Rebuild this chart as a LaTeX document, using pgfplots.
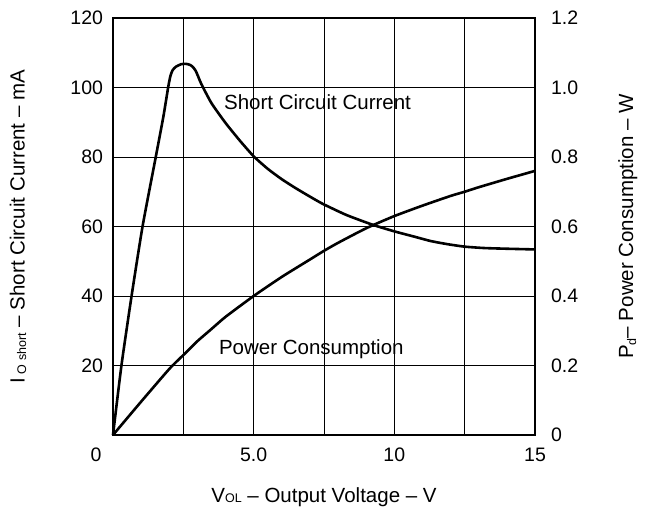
\documentclass[border=0pt]{standalone}
\usepackage{fontspec}
\setmainfont{Liberation Sans}
\usepackage{pgfplots}
\pgfplotsset{compat=1.18}
\begin{document}
\fontsize{20.5bp}{24bp}\selectfont
\begin{tikzpicture}
\begin{axis}[
  name=main,
  scale only axis, width=422bp, height=417bp,
  xmin=0, xmax=15, ymin=0, ymax=120,
  xtick={0,5,10,15},
  xticklabels={\makebox[0pt][r]{0\hspace{11.5bp}},5.0,10,15},
  minor xtick={2.5,7.5,12.5},
  ytick={20,40,60,80,100,120},
  grid=both,
  major grid style={black, line width=1pt},
  minor grid style={black, line width=1pt},
  axis line style={line width=1.6pt},
  major tick length=0pt, minor tick length=0pt,
  /pgf/number format/assume math mode=true,
  tick label style={font=\fontsize{19.5bp}{22bp}\selectfont},
  yticklabel style={xshift=-3bp},
  xticklabel style={yshift=-6bp},
  xlabel={V{\fontsize{12.5bp}{13bp}\selectfont OL} -- Output Voltage -- V},
  xlabel style={at={(axis description cs:0.5,0)}, anchor=center, yshift=-62bp},
  ylabel={I\,\raisebox{-1.5bp}{\fontsize{12.5bp}{13bp}\selectfont O short} -- Short Circuit Current -- mA},
  ylabel style={at={(axis description cs:-0.2251,0.5)}, anchor=center, rotate=0},
  clip=false,
]
\addplot[black, line width=2.6bp, line join=round, smooth, tension=0.35] coordinates {
(0,0) (0.3,20) (0.66,40) (1.05,60) (1.52,80) (1.79,91.6) (1.96,100)
(2.04,103.3) (2.12,105) (2.24,106) (2.42,106.7) (2.6,106.8) (2.74,106.5)
(2.84,105.9) (2.94,104.8) (3.02,103.3) (3.14,101) (3.5,95.5) (4.0,89.8)
(4.5,84.8) (5.0,80.2) (5.5,76.6) (6.0,73.6) (6.5,71) (7.0,68.6) (7.46,66.5)
(8.3,63.3) (9.23,60.5) (10.0,58.6) (10.7,57.1) (11.3,55.8) (11.9,54.9)
(12.5,54.2) (13.2,53.8) (14,53.6) (15,53.4)
};
\node[anchor=base] at (axis cs:7.27,93.7) {Short Circuit Current};
\node[anchor=base] at (axis cs:7.05,23.3) {Power Consumption};
\end{axis}
\begin{axis}[
  scale only axis, width=422bp, height=417bp,
  xmin=0, xmax=15, ymin=0, ymax=1.2,
  axis x line=none, axis y line*=right,
  axis line style={line width=1.6pt},
  ytick={0,0.2,0.4,0.6,0.8,1.0,1.2},
  yticklabels={0,0.2,0.4,0.6,0.8,1.0,1.2},
  major tick length=0pt,
  /pgf/number format/assume math mode=true,
  tick label style={font=\fontsize{19.5bp}{22bp}\selectfont},
  yticklabel style={xshift=9bp},
  ylabel={P\raisebox{-3bp}{\fontsize{12.5bp}{13bp}\selectfont d}-- Power Consumption -- W},
  ylabel style={at={(axis description cs:1.22,0.5)}, anchor=center, rotate=0},
  clip=false,
]
\addplot[black, line width=2.6bp, line join=round, smooth, tension=0.35] coordinates {
(0,0) (1,0.096) (2,0.19) (2.5,0.23) (3,0.27) (3.5,0.305) (4,0.34) (5,0.40)
(6,0.455) (7,0.505) (7.5,0.53) (8,0.553) (9,0.595) (10,0.63) (11,0.66)
(12,0.688) (12.5,0.70) (13,0.713) (14,0.737) (15,0.76)
};
\end{axis}
\pgfresetboundingbox
\path[use as bounding box] ([shift={(-113bp,-77bp)}]main.south west) rectangle ++(650bp,512bp);
\end{tikzpicture}
\end{document}
